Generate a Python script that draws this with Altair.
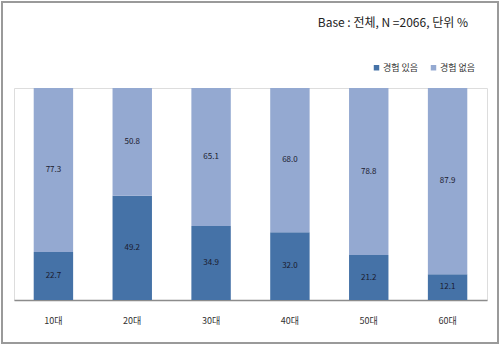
import altair as alt
import pandas as pd

ages = ["10대", "20대", "30대", "40대", "50대", "60대"]
yes_vals = [22.7, 49.2, 34.9, 32.0, 21.2, 12.1]
no_vals = [77.3, 50.8, 65.1, 68.0, 78.8, 87.9]
series = ["경험 있음", "경험 없음"]
colors = ["#4572A7", "#94A9D1"]

rows = []
for a, y, n in zip(ages, yes_vals, no_vals):
    rows.append({"age": a, "series": series[0], "value": y, "ord": 0})
    rows.append({"age": a, "series": series[1], "value": n, "ord": 1})
df = pd.DataFrame(rows)

FONT = "Noto Sans CJK KR"

x = alt.X("age:N", sort=ages, title=None,
          scale=alt.Scale(paddingInner=0.5, paddingOuter=0.25),
          axis=alt.Axis(labelAngle=0, ticks=False, domainColor="#8c8c8c", domainWidth=1.5,
                        labelFont=FONT, labelFontSize=9, labelColor="#333",
                        labelPadding=16))
y = alt.Y("value:Q", stack="zero", title=None,
          scale=alt.Scale(domain=[0, 100], nice=False),
          axis=None)

bars = alt.Chart(df).mark_bar().encode(
    x=x, y=y,
    color=alt.Color("series:N", sort=series,
                    scale=alt.Scale(domain=series, range=colors),
                    legend=alt.Legend(title=None, orient="none", direction="horizontal",
                                      legendX=358, legendY=-25, symbolType="square",
                                      symbolSize=30, labelFont=FONT, labelFontSize=9,
                                      labelColor="#333", columnPadding=10, symbolOffset=0,
                                      labelOffset=2)),
    order=alt.Order("ord:Q"),
)

labels = alt.Chart(df).mark_text(font=FONT, fontSize=8, color="#1a1a2e").encode(
    x=alt.X("age:N", sort=ages),
    y=alt.Y("mid:Q", scale=alt.Scale(domain=[0, 100], nice=False)),
    text=alt.Text("value:Q", format=".1f"),
).transform_stack(
    stack="value", groupby=["age"], as_=["lo", "hi"], sort=[alt.SortField("ord", order="ascending")]
).transform_calculate(mid="(datum.lo + datum.hi) / 2")

frame = alt.Chart(pd.DataFrame({"k": [0]})).mark_rect(
    fill=None, stroke="#9a9a9a", strokeWidth=2
).encode(x=alt.value(-12), x2=alt.value(484), y=alt.value(-86), y2=alt.value(255))

chart = alt.layer(frame, bars, labels).properties(
    width=473, height=212,
    autosize=alt.AutoSizeParams(type="none"),
    padding={"left": 14, "top": 88, "right": 13, "bottom": 49},
    title=alt.TitleParams("Base : 전체, N =2066, 단위 %", anchor="end", dx=-31, offset=-29,
                          font=FONT, fontSize=12, fontWeight="normal", color="#222"),
).configure_view(stroke=None).configure(background="white")

chart.save("out.html", embed_options={"renderer": "svg", "actions": False})
